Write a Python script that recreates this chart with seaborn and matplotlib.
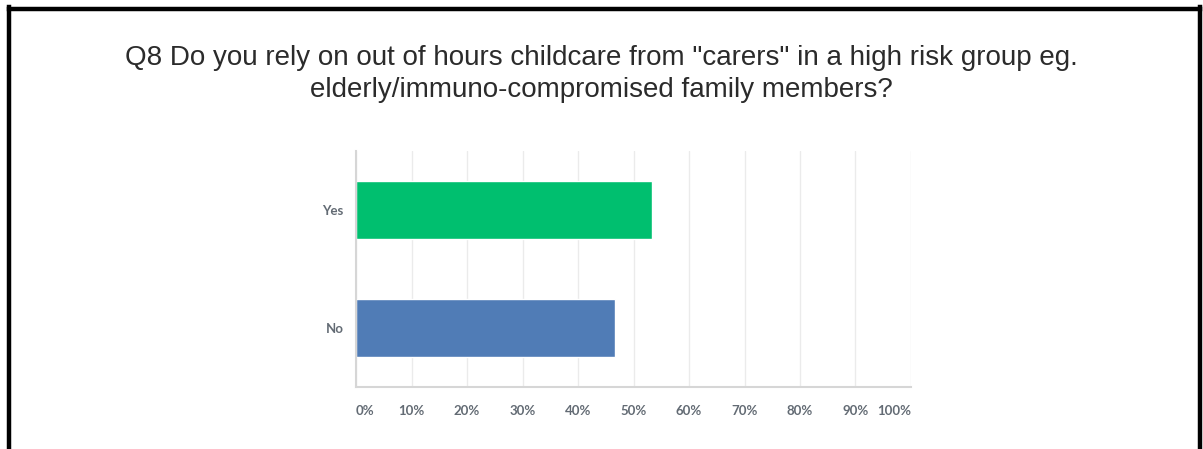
import numpy as np
import pandas as pd
import matplotlib
matplotlib.use("Agg")
import matplotlib.pyplot as plt
import seaborn as sns
from matplotlib.lines import Line2D

# survey answers and share of respondents (%)
answers = ["Yes", "No"]
shares = [53.3, 46.7]
bar_colors = ["#00BF6F", "#507CB6"]
x_ticks = [0, 10, 20, 30, 40, 50, 60, 70, 80, 90, 100]
x_tick_labels = [f"{t}%" for t in x_ticks]
title = ('Q8 Do you rely on out of hours childcare from "carers" in a high risk group eg.\n'
         'elderly/immuno-compromised family members?')

sns.set_theme(style="white")
plt.rcParams['font.family'] = ['Liberation Sans', 'DejaVu Sans']

df = pd.DataFrame({'answer': answers, 'share': shares})

fig = plt.figure(figsize=(12.03, 4.49), dpi=100)
W, H = 1203, 449
ax = fig.add_axes([356 / W, 1 - 387 / H, 555 / W, (387 - 151) / H])

sns.barplot(data=df, x='share', y='answer', hue='answer', palette=bar_colors,
            width=0.49, legend=False, ax=ax, saturation=1)

ax.set_xlim(0, 100)
ax.set_ylim(1.5, -0.5)
ax.set_xticks(x_ticks)
ax.set_xticklabels(x_tick_labels)
ax.set_xlabel('')
ax.set_ylabel('')
ax.grid(axis='x', color='#ebebeb', linewidth=1)
ax.set_axisbelow(True)
for s in ['top', 'right']:
    ax.spines[s].set_visible(False)
for s in ['left', 'bottom']:
    ax.spines[s].set_color('#d6d6d6')
    ax.spines[s].set_linewidth(1.5)

ax.tick_params(axis='both', length=0, colors='#636b74')
ax.tick_params(axis='x', pad=13)
ax.tick_params(axis='y', pad=9)
for lab in ax.get_xticklabels() + ax.get_yticklabels():
    lab.set_fontfamily(['Lato', 'DejaVu Sans'])
    lab.set_fontweight('bold')
    lab.set_fontsize(9.5)
xl = ax.get_xticklabels()
xl[0].set_ha('left')
xl[-1].set_ha('right')

fig.text(0.5, 1 - 74 / H, title, ha='center', va='center', fontsize=20,
         color='#2b2b2b', linespacing=1.32)

# black frame round the chart (left, top, right)
lw = 3.2
fig.add_artist(Line2D([8.5 / W, 8.5 / W], [0, 1 - 7 / H], color='black', lw=lw,
                      transform=fig.transFigure, solid_capstyle='projecting'))
fig.add_artist(Line2D([8.5 / W, 1199.5 / W], [1 - 8.5 / H, 1 - 8.5 / H], color='black', lw=lw,
                      transform=fig.transFigure, solid_capstyle='projecting'))
fig.add_artist(Line2D([1199.5 / W, 1199.5 / W], [0, 1 - 7 / H], color='black', lw=lw,
                      transform=fig.transFigure, solid_capstyle='projecting'))

fig.savefig('out.png', dpi=100)
